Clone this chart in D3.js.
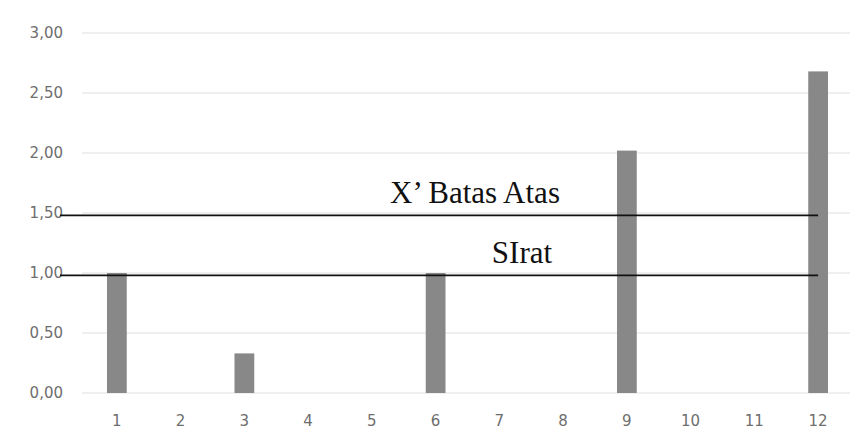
<!DOCTYPE html>
<html><head><meta charset="utf-8">
<script src="https://cdn.jsdelivr.net/npm/d3@7"></script>
<style>body{margin:0;background:#fff}</style>
</head><body>
<svg id="c" width="863" height="445"></svg>
<script>
const categories = ["1","2","3","4","5","6","7","8","9","10","11","12"];
const values = [1.00, 0, 0.33, 0, 0, 1.00, 0, 0, 2.02, 0, 0, 2.68];
const yTicks = [0, 0.5, 1.0, 1.5, 2.0, 2.5, 3.0];
const refLines = [
  {name: "X\u2019 Batas Atas", value: 1.48},
  {name: "SIrat", value: 0.98}
];

const svg = d3.select("#c");
const m = {left: 85, right: 13, top: 33, bottom: 52};
const W = 863, H = 445;
const x = d3.scaleBand().domain(categories).range([m.left, W - m.right]).paddingInner(0.69).paddingOuter(0.345);
const y = d3.scaleLinear().domain([0, 3]).range([H - m.bottom, m.top]);
const fmt = d => d3.format(".2f")(d).replace(".", ",");

// gridlines
svg.append("g").selectAll("line").data(yTicks).join("line")
  .attr("x1", m.left - 3).attr("x2", W - m.right)
  .attr("y1", d => y(d)).attr("y2", d => y(d))
  .attr("stroke", "#e0e0e0").attr("stroke-width", 1);

// y axis
const ya = svg.append("g").attr("transform", `translate(${m.left},0)`)
  .call(d3.axisLeft(y).tickValues(yTicks).tickFormat(fmt).tickSize(0).tickPadding(22));
ya.select(".domain").remove();
ya.selectAll("text").attr("fill", "#6e6e6e").style("font-family", "DejaVu Sans").style("font-size", "15px");

// x axis
const xa = svg.append("g").attr("transform", `translate(0,${H - m.bottom})`)
  .call(d3.axisBottom(x).tickSize(0).tickPadding(22));
xa.select(".domain").remove();
xa.selectAll("text").attr("fill", "#6e6e6e").style("font-family", "DejaVu Sans").style("font-size", "15px");

// bars
svg.append("g").selectAll("rect").data(categories.map((c, i) => ({c, v: values[i]})).filter(d => d.v > 0)).join("rect")
  .attr("x", d => x(d.c)).attr("width", x.bandwidth())
  .attr("y", d => y(d.v)).attr("height", d => y(0) - y(d.v))
  .attr("fill", "#888888");

// reference lines
const xEnd = x(categories[categories.length - 1]) + x.bandwidth() / 2;
svg.append("g").selectAll("line").data(refLines).join("line")
  .attr("x1", 60).attr("x2", xEnd)
  .attr("y1", d => y(d.value)).attr("y2", d => y(d.value))
  .attr("stroke", "#111").attr("stroke-width", 1.6);

svg.append("text").attr("x", 475).attr("y", y(refLines[0].value) - 12)
  .attr("text-anchor", "middle").style("font-family", "Liberation Serif").style("font-size", "31px")
  .attr("fill", "#111").text(refLines[0].name);
svg.append("text").attr("x", 522).attr("y", y(refLines[1].value) - 12)
  .attr("text-anchor", "middle").style("font-family", "Liberation Serif").style("font-size", "31px")
  .attr("fill", "#111").text(refLines[1].name);
</script>
</body></html>
